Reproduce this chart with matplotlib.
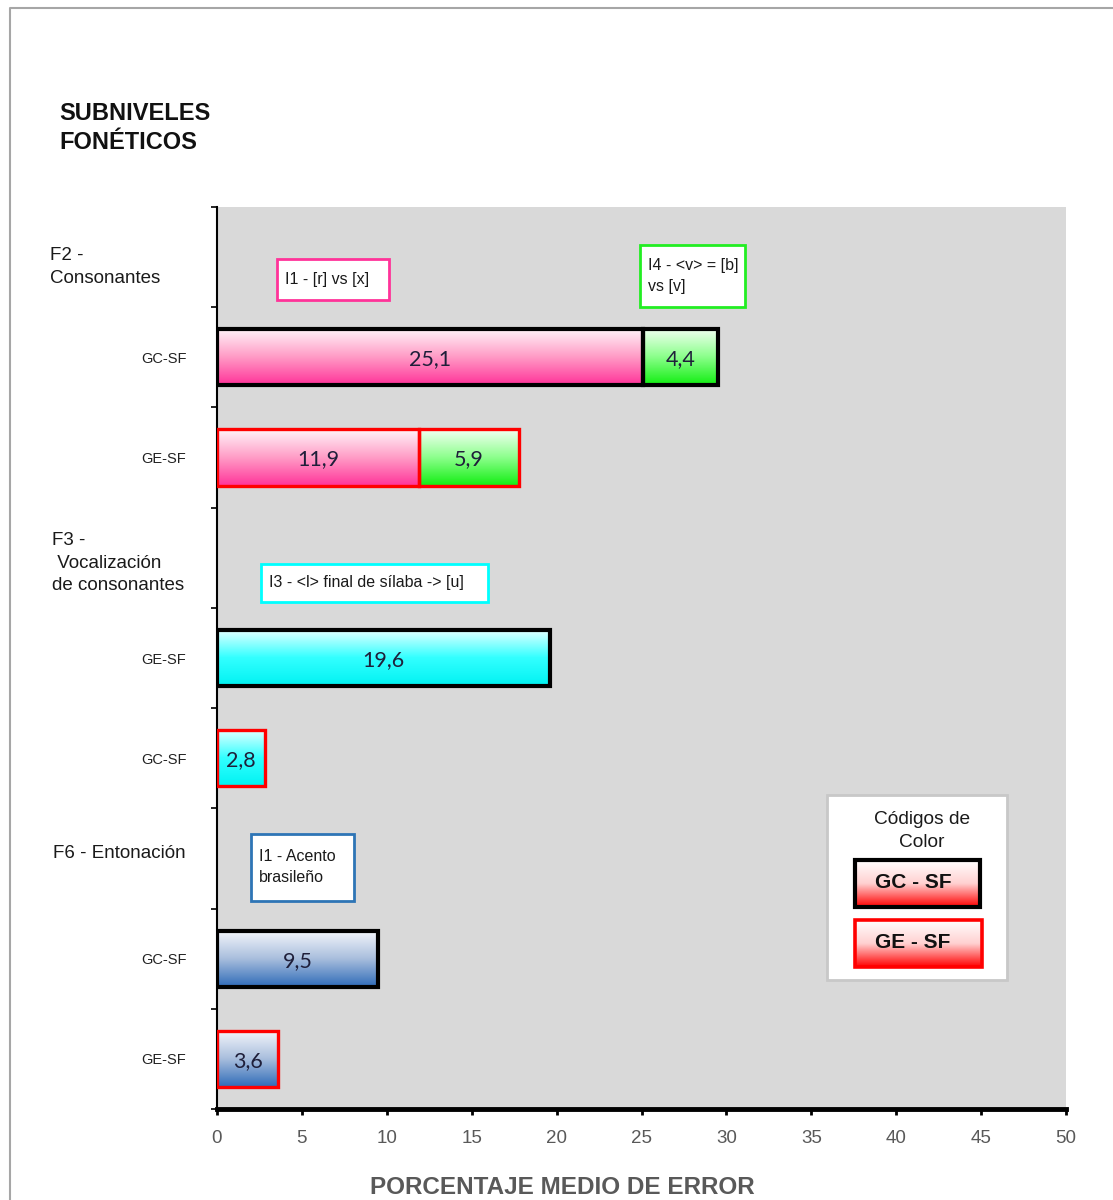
import matplotlib.pyplot as plt
import numpy as np
from matplotlib.colors import LinearSegmentedColormap
from matplotlib.patches import Rectangle

W, H = 1113, 1200

# Rows from top to bottom: one header row per group, then its bars
row_labels = ['', 'GC-SF', 'GE-SF', '', 'GE-SF', 'GC-SF', '', 'GC-SF', 'GE-SF']
group_names = ['F2 -\nConsonantes', 'F3 -\n Vocalización\nde consonantes', 'F6 - Entonación']

# Mean error percentages (stacked segments per row)
f2_gc = [25.1, 4.4]
f2_ge = [11.9, 5.9]
f3_ge = [19.6]
f3_gc = [2.8]
f6_gc = [9.5]
f6_ge = [3.6]

xticks = list(range(0, 51, 5))

SANS = ['Liberation Sans', 'DejaVu Sans']
NUMS = ['Lato', 'DejaVu Sans']

PINK = ['#FFF6FA', '#FF9CC6', '#FF3399']
GREEN = ['#F4FFF4', '#8CFF8C', '#11EE11']
CYAN = ['#E8FFFF', '#33FFFF', '#00F2F2']
BLUE = ['#F6F8FC', '#A9BEDD', '#2E6BB8']
RED = ['#FFFFFF', '#FFD0D0', '#FF0000']


def px(x, y):
    return x / W, 1 - y / H


def gradient_rect(ax, x0, x1, y_top, y_bot, stops, edge, lw, z=2):
    cmap = LinearSegmentedColormap.from_list('grad', stops)
    grad = np.linspace(0, 1, 256).reshape(-1, 1)
    im = ax.imshow(grad, cmap=cmap, aspect='auto', origin='upper',
                   extent=(x0, x1, y_bot, y_top), zorder=z, interpolation='bilinear')
    rect = Rectangle((x0, y_top), x1 - x0, y_bot - y_top, facecolor='none',
                     edgecolor=edge, linewidth=lw, zorder=z + 1)
    ax.add_patch(rect)
    im.set_clip_path(rect)
    return rect


fig = plt.figure(figsize=(W / 100, H / 100), dpi=100)
ax = fig.add_axes([217 / W, 1 - 1109 / H, (1066 - 217) / W, (1109 - 207) / H])
ax.set_facecolor('#D9D9D9')

bars = [
    (1, f2_gc, [PINK, GREEN], 'black', 3.0),
    (2, f2_ge, [PINK, GREEN], '#FF0000', 2.4),
    (4, f3_ge, [CYAN], 'black', 3.0),
    (5, f3_gc, [CYAN], '#FF0000', 2.4),
    (7, f6_gc, [BLUE], 'black', 3.0),
    (8, f6_ge, [BLUE], '#FF0000', 2.4),
]
bh = 0.56
for row, values, colors, edge, lw in bars:
    yc = row + 0.5
    left = 0
    for v, stops in zip(values, colors):
        gradient_rect(ax, left, left + v, yc - bh / 2, yc + bh / 2, stops, edge, lw)
        ax.text(left + v / 2, yc + 0.02, f'{v:.1f}'.replace('.', ','), ha='center',
                va='center', fontsize=15.5, color='#1F1F3A', family=NUMS, zorder=5)
        left += v

# Indicator boxes
notes = [
    (3.53, 10.13, 0.52, 0.93, 'I1 - [r] vs [x]', '#FF3399'),
    (24.91, 31.10, 0.38, 1.00, 'I4 - <v> = [b]\nvs [v]', '#22EE22'),
    (2.59, 15.96, 3.56, 3.94, 'I3 - <l> final de sílaba -> [u]', '#00FFFF'),
    (2.00, 8.07, 6.26, 6.92, 'I1 - Acento\nbrasileño', '#2E75B6'),
]
for x0, x1, y0, y1, txt, col in notes:
    ax.add_patch(Rectangle((x0, y0), x1 - x0, y1 - y0, facecolor='white',
                           edgecolor=col, linewidth=2, zorder=4))
    ax.text(x0 + 0.45, (y0 + y1) / 2, txt, ha='left', va='center', fontsize=11.5,
            family=SANS, color='#1A1A1A', linespacing=1.5, zorder=5)

ax.set_xlim(0, 50)
ax.set_ylim(9, 0)
ax.set_xticks(xticks)
ax.set_xticklabels([str(t) for t in xticks], family=SANS, fontsize=13.5, color='#595959')
ax.set_yticks(np.arange(9) + 0.5)
ax.set_yticklabels(row_labels, family=SANS, fontsize=10.5, color='#222222')
ax.set_yticks(np.arange(10), minor=True)
ax.tick_params(axis='y', which='major', length=0, pad=22)
ax.tick_params(axis='y', which='minor', length=4, width=1.2, color='black')
ax.tick_params(axis='x', which='major', length=4, width=2, pad=11, color='black')
for side in ('top', 'right'):
    ax.spines[side].set_visible(False)
ax.spines['left'].set_linewidth(1.5)
ax.spines['bottom'].set_linewidth(3.5)

# Titles and group headers
fig.text(*px(59, 128), 'SUBNIVELES\nFONÉTICOS', ha='left', va='center', fontsize=17,
         fontweight='bold', family=SANS, color='#111111', linespacing=1.3)
header_pos = [(50, 267), (52, 563), (53, 853)]
for (hx, hy), name in zip(header_pos, group_names):
    fig.text(*px(hx, hy), name, ha='left', va='center', fontsize=13.5, family=SANS,
             color='#1A1A1A', linespacing=1.4)
fig.text(*px(562, 1188), 'PORCENTAJE MEDIO DE ERROR', ha='center', va='center',
         fontsize=17.5, fontweight='bold', family=SANS, color='#595959')

# Overlay in pixel coordinates: outer frame and colour key
ov = fig.add_axes([0, 0, 1, 1], zorder=10)
ov.patch.set_visible(False)
ov.axis('off')
ov.plot([10, 10, W + 5], [H + 5, 8, 8], color='#A6A6A6', lw=1.5)
ov.add_patch(Rectangle((827, 795), 180, 185, facecolor='white', edgecolor='#C8C8C8', lw=2))
ov.text(922, 831, 'Códigos de\nColor', ha='center', va='center', fontsize=13.8,
        family=SANS, color='#1A1A1A', linespacing=1.4)
gradient_rect(ov, 855, 980, 860, 907, RED, 'black', 3.0, z=3)
gradient_rect(ov, 855, 982, 920, 967, RED, '#FF0000', 2.6, z=3)
ov.text(913, 883, 'GC - SF', ha='center', va='center', fontsize=15, fontweight='bold',
        family=SANS, color='#111111', zorder=6)
ov.text(913, 943, 'GE - SF', ha='center', va='center', fontsize=15, fontweight='bold',
        family=SANS, color='#111111', zorder=6)
ov.set_xlim(0, W)
ov.set_ylim(H, 0)

fig.savefig('out.png', dpi=100, facecolor='white')
